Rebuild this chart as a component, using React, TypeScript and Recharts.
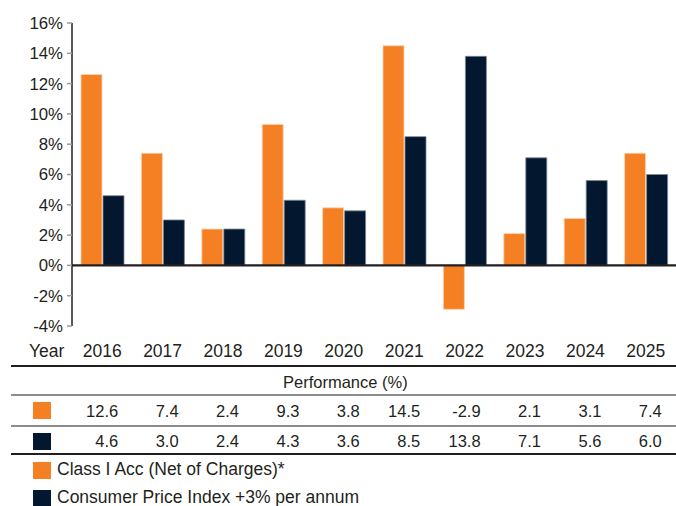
import React from "react";
import {
  BarChart,
  Bar,
  XAxis,
  YAxis,
  ReferenceLine,
} from "recharts";

const years = ["2016", "2017", "2018", "2019", "2020", "2021", "2022", "2023", "2024", "2025"];
const classIAcc = [12.6, 7.4, 2.4, 9.3, 3.8, 14.5, -2.9, 2.1, 3.1, 7.4];
const cpiPlus3 = [4.6, 3.0, 2.4, 4.3, 3.6, 8.5, 13.8, 7.1, 5.6, 6.0];
const yTicks = [-4, -2, 0, 2, 4, 6, 8, 10, 12, 14, 16];

const ORANGE = "#F58023";
const NAVY = "#03172F";
const INK = "#231F20";
const FONT = '"Liberation Sans", Arial, Helvetica, sans-serif';

const data = years.map((year, i) => ({
  year,
  classI: classIAcc[i],
  cpi: cpiPlus3[i],
}));

// chart geometry, used for the table columns below the bars
const W = 676;
const PLOT_LEFT = 72;
const band = (W - PLOT_LEFT) / years.length;
const colRight = (i: number) => PLOT_LEFT + band * (i + 0.5) + 16;

// Year tick, a little further down than the default
const YearTick = ({ x, y, payload }: any) => (
  <text x={x} y={y + 31} textAnchor="middle" fill={INK} fontSize={17.5} fontFamily={FONT}>
    {payload.value}
  </text>
);

const Square = ({ color, top }: { color: string; top: number }) => (
  <div
    style={{
      position: "absolute",
      left: 33,
      top,
      width: 18,
      height: 17,
      backgroundColor: color,
    }}
  />
);

const Rule = ({ top, color, h }: { top: number; color: string; h: number }) => (
  <div
    style={{
      position: "absolute",
      left: 11,
      right: 0,
      top,
      height: h,
      backgroundColor: color,
    }}
  />
);

const ValueRow = ({ values, top }: { values: number[]; top: number }) => (
  <>
    {values.map((v, i) => (
      <div
        key={i}
        style={{
          position: "absolute",
          top,
          left: colRight(i) - 60,
          width: 60,
          textAlign: "right",
          lineHeight: "20px",
        }}
      >
        {v.toFixed(1)}
      </div>
    ))}
  </>
);

export default function App() {
  return (
    <div
      style={{
        position: "absolute",
        left: 0,
        top: 0,
        width: W,
        height: 506,
        background: "#fff",
        fontFamily: FONT,
        fontSize: 16.5,
        color: INK,
        overflow: "hidden",
      }}
    >
      <BarChart
        width={W}
        height={366}
        data={data}
        margin={{ top: 23, right: 0, bottom: 0, left: 0 }}
        barSize={21}
        barGap={1}
      >
        <XAxis
          dataKey="year"
          axisLine={false}
          tickLine={false}
          tickSize={0}
          tickMargin={0}
          height={40}
          interval={0}
          tick={<YearTick />}
        />
        <YAxis
          domain={[-4, 16]}
          ticks={yTicks}
          interval={0}
          width={72}
          tickFormatter={(v: number) => `${v}%`}
          axisLine={{ stroke: INK, strokeWidth: 1.5 }}
          tickLine={{ stroke: "#9a9a9a", strokeWidth: 1.5 }}
          tickSize={5}
          tickMargin={4}
          tick={{ fill: INK, fontSize: 16.8, fontFamily: FONT }}
        />
        <Bar
          dataKey="classI"
          fill={ORANGE}
          stroke="#fbd2b2"
          strokeWidth={0.8}
          isAnimationActive={false}
        />
        <Bar
          dataKey="cpi"
          fill={NAVY}
          stroke="#7c8898"
          strokeWidth={0.8}
          isAnimationActive={false}
        />
        <ReferenceLine y={0} stroke={INK} strokeWidth={2.2} />
      </BarChart>

      {/* Year label at the left of the x axis */}
      <div style={{ position: "absolute", left: 29, top: 341, lineHeight: "20px", fontSize: 17.5 }}>Year</div>

      {/* Performance table */}
      <Rule top={365} color={INK} h={1.5} />
      <div
        style={{
          position: "absolute",
          left: 283,
          top: 372,
          lineHeight: "20px",
          whiteSpace: "nowrap",
        }}
      >
        Performance (%)
      </div>
      <Rule top={394} color="#8c8c8c" h={1.5} />
      <Square color={ORANGE} top={402} />
      <ValueRow values={classIAcc} top={401} />
      <Rule top={425} color="#8c8c8c" h={1.5} />
      <Square color={NAVY} top={433} />
      <ValueRow values={cpiPlus3} top={431} />
      <Rule top={453} color={INK} h={1.5} />

      {/* Legend */}
      <Square color={ORANGE} top={462} />
      <div style={{ position: "absolute", left: 57, top: 459, lineHeight: "20px", whiteSpace: "nowrap", fontSize: 17.5 }}>
        Class I Acc (Net of Charges)*
      </div>
      <Square color={NAVY} top={490} />
      <div style={{ position: "absolute", left: 57, top: 487, lineHeight: "20px", whiteSpace: "nowrap", fontSize: 17.5 }}>
        Consumer Price Index +3% per annum
      </div>
    </div>
  );
}
